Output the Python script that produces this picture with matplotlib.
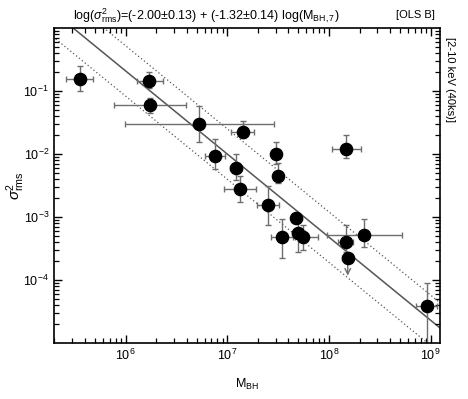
import numpy as np
import matplotlib
matplotlib.use("Agg")
import matplotlib.pyplot as plt
from matplotlib.ticker import LogLocator, NullFormatter, FixedLocator, FixedFormatter

plt.rcParams['font.family'] = ['Liberation Sans', 'DejaVu Sans']
plt.rcParams['mathtext.fontset'] = 'custom'
plt.rcParams['mathtext.rm'] = 'Liberation Sans'
plt.rcParams['mathtext.it'] = 'Liberation Sans:italic'
plt.rcParams['mathtext.sf'] = 'Liberation Sans'

# black hole masses (M_sun) and their error bounds
mbh = [3.57e5, 1.71e6, 1.75e6, 5.32e6, 1.42e7, 7.59e6, 3.00e7, 3.18e7, 1.22e7, 1.34e7,
       2.50e7, 4.75e7, 3.48e7, 5.00e7, 5.60e7, 1.46e8, 2.19e8, 1.47e8, 9.16e8]
mbh_lo = [2.60e5, 1.29e6, 7.76e5, 9.89e5, 1.08e7, 6.05e6, 2.70e7, 2.88e7, 1.07e7, 9.31e6,
          1.95e7, 4.31e7, 2.70e7, 4.34e7, 4.44e7, 1.23e8, 9.50e7, 1.08e8, 7.18e8]
mbh_hi = [4.79e5, 2.32e6, 3.94e6, 2.90e7, 1.84e7, 9.51e6, 3.30e7, 3.46e7, 1.39e7, 1.90e7,
          3.25e7, 5.41e7, 4.65e7, 5.82e7, 7.82e7, 1.73e8, 5.20e8, 2.06e8, 1.16e9]
# excess variance values and error bounds
sig = [0.153, 0.144, 0.060, 0.0296, 0.0226, 0.00929, 0.00989, 0.00454, 0.00593, 0.00283,
       0.00155, 0.000953, 0.000486, 0.000564, 0.000473, 0.000406, 0.000518, 0.0120, 3.87e-5]
sig_lo = [0.101, 0.112, 0.0443, 0.0157, 0.0177, 0.00571, 0.00700, 0.00350, 0.00386, 0.00175,
          0.000746, 0.000789, 0.000226, 0.000281, 0.000299, 0.000278, 0.000338, 0.00873, 6.0e-6]
sig_hi = [0.252, 0.202, 0.0766, 0.0578, 0.0334, 0.0171, 0.0157, 0.00720, 0.00989, 0.00448,
          0.00310, 0.00116, 0.000929, 0.000841, 0.000746, 0.000746, 0.000918, 0.0200, 8.87e-5]
# upper limit
ul_m, ul_m_lo, ul_m_hi = 1.53e8, 1.34e8, 1.73e8
ul_sig, ul_sig_end = 2.21e-4, 1.06e-4

# fit
fit_a, fit_b, band = -2.00, -1.32, 0.40

fig = plt.figure(figsize=(4.68, 3.99), dpi=100)
ax = fig.add_axes([0.1154, 0.1404, 0.8248, 0.7894])
ax.set_xscale('log')
ax.set_yscale('log')
ax.set_xlim(10**5.297, 10**9.092)
ax.set_ylim(1e-5, 1.0)

mbh_a = np.array(mbh); sig_a = np.array(sig)
xerr = [mbh_a - np.array(mbh_lo), np.array(mbh_hi) - mbh_a]
yerr = [sig_a - np.array(sig_lo), np.array(sig_hi) - sig_a]
ecol = '#6e6e6e'
ax.errorbar(mbh_a, sig_a, xerr=xerr, yerr=yerr, fmt='none', ecolor=ecol,
            elinewidth=1.0, capsize=2.5, capthick=1.0, zorder=2)
ax.plot(mbh_a, sig_a, 'o', color='black', markersize=8.8, zorder=3)

# upper limit point
ax.errorbar([ul_m], [ul_sig], xerr=[[ul_m - ul_m_lo], [ul_m_hi - ul_m]], fmt='none',
            ecolor=ecol, elinewidth=1.0, capsize=2.5, zorder=2)
ax.annotate('', xy=(ul_m, ul_sig_end), xytext=(ul_m, ul_sig),
            arrowprops=dict(arrowstyle='->', color=ecol, lw=1.0, mutation_scale=10), zorder=2)
ax.plot([ul_m], [ul_sig], 'o', color='black', markersize=8.8, zorder=3)

lm = np.linspace(5.0, 9.5, 50)
fit = fit_a + fit_b * (lm - 7)
ax.plot(10**lm, 10**fit, color='#555555', lw=1.1, zorder=1)
ax.plot(10**lm, 10**(fit + band), color='#555555', lw=0.9, ls=(0, (1, 2)), zorder=1)
ax.plot(10**lm, 10**(fit - band), color='#555555', lw=0.9, ls=(0, (1, 2)), zorder=1)

ax.yaxis.set_major_locator(FixedLocator([1e-4, 1e-3, 1e-2, 1e-1]))
ax.yaxis.set_major_formatter(FixedFormatter([r'$10^{-4}$', r'$10^{-3}$', r'$10^{-2}$', r'$10^{-1}$']))
ax.xaxis.set_major_locator(FixedLocator([1e6, 1e7, 1e8, 1e9]))
ax.xaxis.set_major_formatter(FixedFormatter([r'$10^{6}$', r'$10^{7}$', r'$10^{8}$', r'$10^{9}$']))
for axis in (ax.xaxis, ax.yaxis):
    axis.set_minor_locator(LogLocator(base=10, subs=np.arange(2, 10), numticks=20))
    axis.set_minor_formatter(NullFormatter())
ax.tick_params(which='both', direction='in', top=True, right=True, labelsize=9, colors='black')
ax.tick_params(which='major', length=6, width=1.0)
ax.tick_params(which='minor', length=3.5, width=0.9)
for s in ax.spines.values():
    s.set_linewidth(1.2)

ax.set_xlabel(r'M$_{\mathregular{BH}}$', fontsize=9, labelpad=10)
ax.set_ylabel(r'$\sigma^2_{\mathregular{rms}}$', fontsize=11, va='center')
ax.yaxis.set_label_coords(-0.098, 0.5)

fig.text(0.44, 0.962, r'log($\sigma^2_{\mathregular{rms}}$)=(-2.00$\pm$0.13) + (-1.32$\pm$0.14) log(M$_{\mathregular{BH,7}}$)',
         ha='center', va='center', fontsize=9)
fig.text(0.888, 0.962, '[OLS B]', ha='center', va='center', fontsize=8)
fig.text(0.962, 0.80, '[2-10 keV (40ks)]', ha='center', va='center', rotation=-90, fontsize=8)

fig.savefig('out.png', dpi=100)
